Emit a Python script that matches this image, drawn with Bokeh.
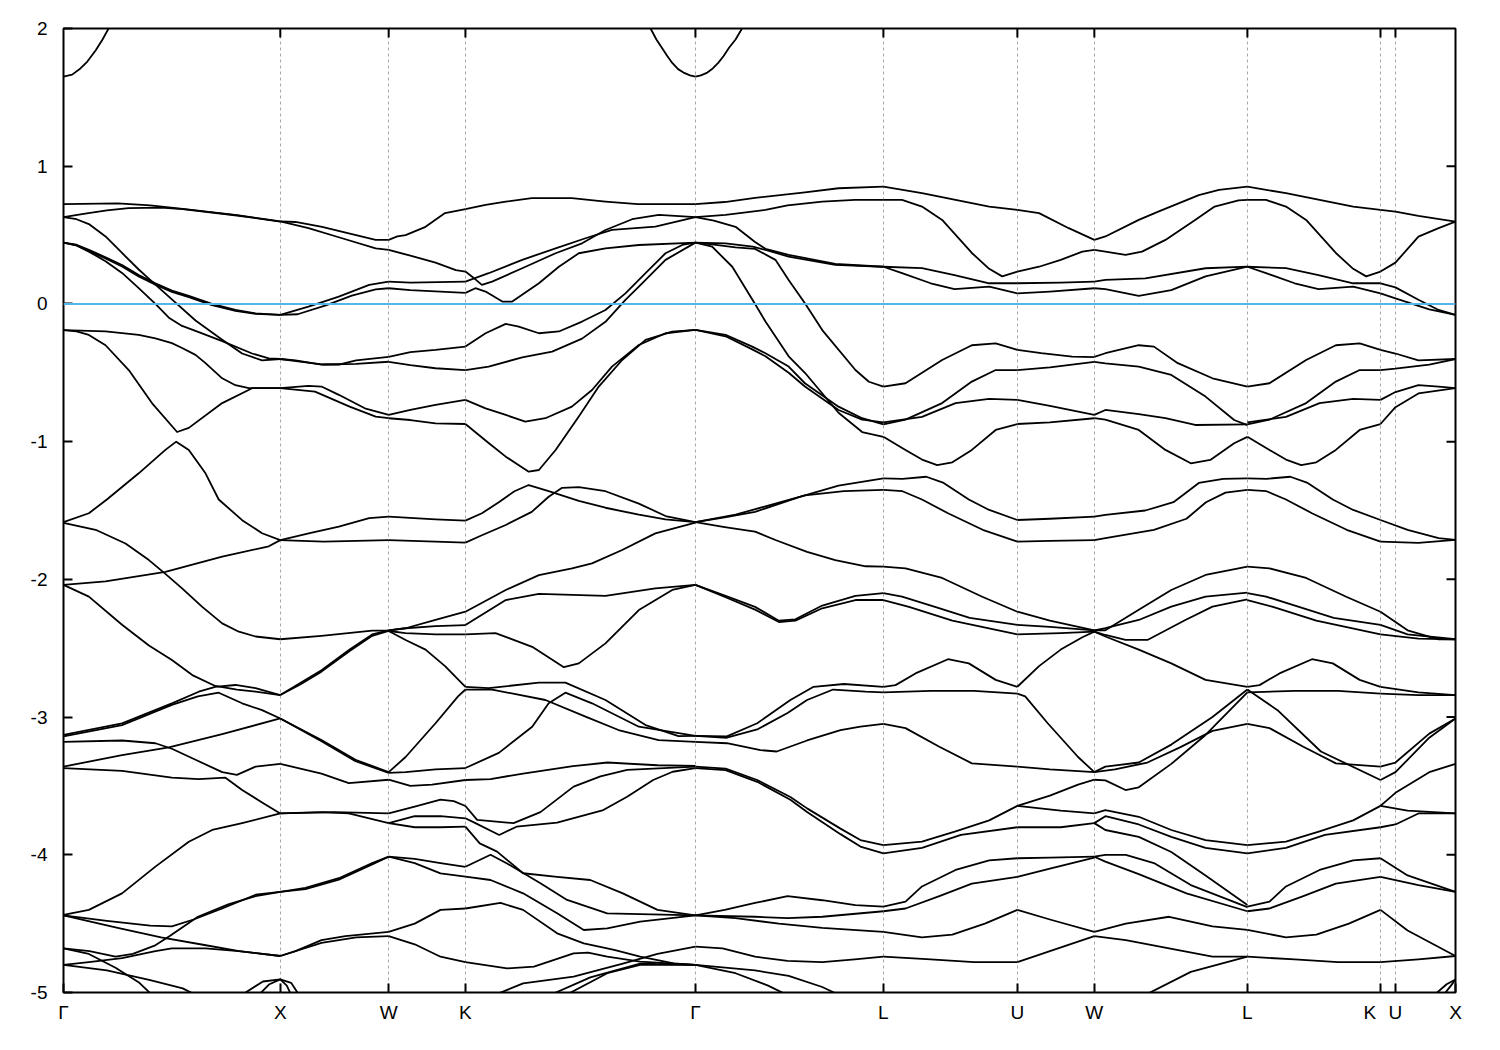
from bokeh.plotting import figure
from bokeh.models import Range1d, FixedTicker, Span
from bokeh.embed import file_html
from bokeh.resources import INLINE

# High-symmetry points (path coordinate) and their labels
hs_k = [0.0, 1.0, 1.5, 1.854, 2.915, 3.782, 4.40, 4.755, 5.461, 6.075, 6.144, 6.421]
hs_labels = ["Γ", "X", "W", "K", "Γ", "L", "U", "W", "L", "K", "U", "X"]
y_ticks = [2, 1, 0, -1, -2, -3, -4, -5]
fermi_level = 0.0

# Bands, segment by segment: each curve is a list of (k, E[eV])
seg_gamma_x = [
    [(0, 1.65), (0.04, 1.665), (0.078, 1.71), (0.11, 1.76), (0.148, 1.84), (0.18, 1.92), (0.208, 2.0), (0.24, 2.15)],
    [(0, 0.725), (0.25, 0.73), (0.4, 0.715), (0.55, 0.69), (0.8, 0.645), (1.0, 0.60)],
    [(0, 0.63), (0.1, 0.655), (0.2, 0.68), (0.3, 0.695), (0.45, 0.70), (0.55, 0.688), (0.8, 0.642), (1.0, 0.598)],
    [(0, 0.63), (0.06, 0.615), (0.117, 0.58), (0.194, 0.49), (0.27, 0.37), (0.347, 0.25), (0.424, 0.14), (0.509, 0.02), (0.609, -0.12), (0.732, -0.26), (0.824, -0.36), (0.916, -0.41), (1.0, -0.40)],
    [(0, 0.445), (0.06, 0.425), (0.117, 0.38), (0.194, 0.31), (0.27, 0.225), (0.347, 0.115), (0.424, 0.0), (0.486, -0.10), (0.547, -0.16), (0.624, -0.205), (0.732, -0.27), (0.87, -0.36), (0.947, -0.395), (1.0, -0.40)],
    [(0, 0.445), (0.06, 0.43), (0.117, 0.392), (0.194, 0.339), (0.27, 0.283), (0.347, 0.21), (0.424, 0.15), (0.50, 0.097), (0.578, 0.058), (0.685, 0.0), (0.793, -0.044), (0.886, -0.068), (1.0, -0.08)],
    [(0, 0.445), (0.06, 0.425), (0.117, 0.385), (0.194, 0.33), (0.27, 0.272), (0.347, 0.2), (0.424, 0.14), (0.50, 0.088), (0.578, 0.05), (0.685, -0.008), (0.793, -0.05), (0.886, -0.072), (1.0, -0.08)],
    [(0, -0.19), (0.194, -0.20), (0.347, -0.225), (0.424, -0.25), (0.50, -0.285), (0.547, -0.32), (0.609, -0.37), (0.655, -0.43), (0.732, -0.54), (0.793, -0.59), (0.855, -0.612), (1.0, -0.612)],
    [(0, -0.19), (0.06, -0.20), (0.117, -0.225), (0.194, -0.30), (0.301, -0.48), (0.408, -0.72), (0.524, -0.93), (0.578, -0.90), (0.732, -0.72), (0.87, -0.612), (1.0, -0.612)],
    [(0, -1.585), (0.117, -1.52), (0.2, -1.42), (0.347, -1.23), (0.47, -1.06), (0.52, -1.0), (0.578, -1.06), (0.655, -1.23), (0.716, -1.42), (0.824, -1.57), (0.916, -1.665), (1.0, -1.715)],
    [(0, -1.59), (0.148, -1.64), (0.286, -1.74), (0.394, -1.86), (0.47, -1.96), (0.547, -2.065), (0.64, -2.20), (0.732, -2.32), (0.809, -2.38), (0.886, -2.415), (1.0, -2.435)],
    [(0, -2.04), (0.194, -2.015), (0.47, -1.945), (0.732, -1.835), (0.947, -1.76), (1.0, -1.715)],
    [(0, -2.04), (0.117, -2.125), (0.27, -2.33), (0.394, -2.48), (0.50, -2.586), (0.594, -2.695), (0.70, -2.774), (0.80, -2.80), (0.886, -2.815), (1.0, -2.84)],
    [(0, -3.13), (0.27, -3.046), (0.50, -2.90), (0.624, -2.816), (0.70, -2.78), (0.793, -2.767), (0.886, -2.79), (1.0, -2.84)],
    [(0, -3.14), (0.27, -3.058), (0.50, -2.912), (0.62, -2.85), (0.716, -2.823), (0.824, -2.90), (0.916, -2.95), (1.0, -3.01)],
    [(0, -3.36), (0.27, -3.276), (0.486, -3.22), (0.732, -3.123), (1.0, -3.01)],
    [(0, -3.18), (0.27, -3.17), (0.424, -3.19), (0.50, -3.23), (0.609, -3.31), (0.732, -3.40), (0.80, -3.42), (0.886, -3.36), (1.0, -3.34)],
    [(0, -3.37), (0.27, -3.39), (0.50, -3.44), (0.624, -3.45), (0.747, -3.44), (0.824, -3.53), (0.916, -3.62), (1.0, -3.70)],
    [(0, -4.437), (0.117, -4.40), (0.27, -4.28), (0.424, -4.086), (0.578, -3.905), (0.686, -3.82), (0.824, -3.77), (1.0, -3.70)],
    [(0, -4.44), (0.2, -4.48), (0.4, -4.515), (0.5, -4.52), (0.6, -4.47), (0.732, -4.39), (0.886, -4.29), (1.0, -4.27)],
    [(0, -4.44), (0.25, -4.53), (0.45, -4.60), (0.65, -4.655), (0.81, -4.70), (1.0, -4.735)],
    [(0, -4.68), (0.12, -4.70), (0.24, -4.74), (0.32, -4.72), (0.42, -4.66), (0.49, -4.59), (0.62, -4.45), (0.76, -4.36), (0.886, -4.30), (1.0, -4.27)],
    [(0, -4.80), (0.117, -4.78), (0.27, -4.75), (0.424, -4.70), (0.50, -4.68), (0.655, -4.68), (0.809, -4.70), (1.0, -4.735)],
    [(0, -4.68), (0.117, -4.72), (0.24, -4.82), (0.35, -4.93), (0.43, -5.05)],
    [(0, -4.80), (0.2, -4.84), (0.4, -4.91), (0.55, -4.97), (0.65, -5.05)],
    [(0.79, -5.05), (0.92, -4.92), (1.0, -4.905), (1.05, -4.93), (1.10, -5.05)],
    [(0.88, -5.05), (0.95, -4.94), (1.0, -4.905), (1.03, -4.95), (1.06, -5.05)],
]

seg_x_w = [
    [(1.0, 0.60), (1.07, 0.595), (1.193, 0.56), (1.316, 0.513), (1.44, 0.465), (1.5, 0.465)],
    [(1.0, 0.60), (1.13, 0.55), (1.285, 0.477), (1.44, 0.404), (1.5, 0.392)],
    [(1.0, -0.08), (1.13, -0.02), (1.27, 0.053), (1.41, 0.138), (1.5, 0.162)],
    [(1.0, -0.08), (1.08, -0.075), (1.21, -0.01), (1.33, 0.06), (1.44, 0.105), (1.5, 0.114)],
    [(1.0, -0.40), (1.07, -0.41), (1.19, -0.44), (1.27, -0.44), (1.35, -0.41), (1.5, -0.385)],
    [(1.0, -0.40), (1.1, -0.42), (1.2, -0.44), (1.35, -0.435), (1.5, -0.42)],
    [(1.0, -0.612), (1.13, -0.595), (1.19, -0.60), (1.27, -0.66), (1.39, -0.758), (1.5, -0.806)],
    [(1.0, -0.612), (1.16, -0.637), (1.32, -0.746), (1.44, -0.818), (1.5, -0.83)],
    [(1.0, -1.715), (1.136, -1.665), (1.27, -1.617), (1.41, -1.556), (1.5, -1.545)],
    [(1.0, -1.715), (1.2, -1.726), (1.5, -1.715)],
    [(1.0, -2.435), (1.19, -2.41), (1.424, -2.372), (1.5, -2.372)],
    [(1.0, -2.84), (1.09, -2.755), (1.19, -2.66), (1.32, -2.51), (1.424, -2.40), (1.5, -2.37)],
    [(1.0, -2.84), (1.09, -2.765), (1.19, -2.67), (1.32, -2.52), (1.424, -2.41), (1.5, -2.375)],
    [(1.0, -3.01), (1.19, -3.166), (1.347, -3.31), (1.5, -3.40)],
    [(1.0, -3.01), (1.19, -3.175), (1.347, -3.32), (1.5, -3.405)],
    [(1.0, -3.34), (1.19, -3.41), (1.316, -3.48), (1.5, -3.455)],
    [(1.0, -3.70), (1.193, -3.69), (1.316, -3.70), (1.5, -3.77)],
    [(1.0, -3.70), (1.25, -3.69), (1.5, -3.70)],
    [(1.0, -4.27), (1.116, -4.24), (1.27, -4.17), (1.424, -4.06), (1.5, -4.014)],
    [(1.0, -4.27), (1.116, -4.25), (1.27, -4.18), (1.424, -4.07), (1.5, -4.014)],
    [(1.0, -4.735), (1.07, -4.70), (1.19, -4.62), (1.3, -4.59), (1.5, -4.56)],
    [(1.0, -4.735), (1.19, -4.64), (1.35, -4.60), (1.5, -4.59)],
]

seg_w_k = [
    [(1.5, 0.465), (1.54, 0.49), (1.578, 0.50), (1.67, 0.56), (1.76, 0.66), (1.854, 0.688)],
    [(1.5, 0.392), (1.6, 0.35), (1.716, 0.30), (1.81, 0.245), (1.854, 0.235)],
    [(1.5, 0.162), (1.6, 0.155), (1.854, 0.162)],
    [(1.5, 0.114), (1.6, 0.10), (1.854, 0.08)],
    [(1.5, -0.385), (1.6, -0.35), (1.716, -0.334), (1.854, -0.31)],
    [(1.5, -0.42), (1.6, -0.445), (1.716, -0.467), (1.854, -0.48)],
    [(1.5, -0.806), (1.6, -0.77), (1.716, -0.733), (1.854, -0.697)],
    [(1.5, -0.83), (1.6, -0.843), (1.716, -0.867), (1.854, -0.872)],
    [(1.5, -1.545), (1.716, -1.564), (1.854, -1.573)],
    [(1.5, -1.715), (1.716, -1.726), (1.854, -1.733)],
    [(1.5, -2.37), (1.578, -2.355), (1.716, -2.295), (1.854, -2.235)],
    [(1.5, -2.37), (1.578, -2.355), (1.716, -2.34), (1.854, -2.332)],
    [(1.5, -2.375), (1.578, -2.39), (1.716, -2.40), (1.854, -2.40)],
    [(1.5, -2.375), (1.578, -2.44), (1.67, -2.51), (1.76, -2.63), (1.854, -2.78)],
    [(1.5, -3.40), (1.578, -3.29), (1.716, -3.045), (1.82, -2.85), (1.854, -2.80)],
    [(1.5, -3.405), (1.578, -3.40), (1.716, -3.38), (1.854, -3.37)],
    [(1.5, -3.455), (1.6, -3.50), (1.70, -3.49), (1.854, -3.457)],
    [(1.5, -3.70), (1.62, -3.65), (1.739, -3.60), (1.80, -3.61), (1.854, -3.646)],
    [(1.5, -3.77), (1.62, -3.72), (1.739, -3.72), (1.854, -3.735)],
    [(1.5, -3.77), (1.62, -3.80), (1.739, -3.80), (1.854, -3.796)],
    [(1.5, -4.014), (1.62, -4.03), (1.739, -4.06), (1.854, -4.087)],
    [(1.5, -4.014), (1.62, -4.06), (1.739, -4.135), (1.854, -4.159)],
    [(1.5, -4.56), (1.62, -4.50), (1.739, -4.40), (1.854, -4.39)],
    [(1.5, -4.59), (1.62, -4.65), (1.739, -4.74), (1.854, -4.78)],
]

seg_k_gamma = [
    [(1.854, 0.688), (1.947, 0.719), (2.04, 0.743), (2.16, 0.768), (2.345, 0.768), (2.50, 0.743), (2.65, 0.724), (2.915, 0.724)],
    [(1.854, 0.235), (1.885, 0.198), (1.93, 0.138), (1.977, 0.162), (2.116, 0.259), (2.27, 0.368), (2.392, 0.44), (2.50, 0.537), (2.623, 0.615), (2.746, 0.646), (2.915, 0.63)],
    [(1.854, 0.162), (1.961, 0.223), (2.116, 0.32), (2.27, 0.404), (2.408, 0.477), (2.53, 0.537), (2.73, 0.562), (2.915, 0.63)],
    [(1.854, 0.08), (1.9, 0.114), (1.947, 0.09), (2.024, 0.017), (2.07, 0.017), (2.193, 0.15), (2.285, 0.27), (2.377, 0.368), (2.50, 0.404), (2.654, 0.428), (2.915, 0.445)],
    [(1.854, -0.31), (1.947, -0.213), (2.04, -0.145), (2.10, -0.165), (2.193, -0.213), (2.285, -0.20), (2.392, -0.128), (2.50, -0.044), (2.592, 0.077), (2.685, 0.223), (2.777, 0.368), (2.854, 0.428), (2.915, 0.445)],
    [(1.854, -0.48), (1.961, -0.455), (2.116, -0.388), (2.254, -0.346), (2.392, -0.252), (2.50, -0.13), (2.592, 0.03), (2.654, 0.126), (2.777, 0.32), (2.915, 0.445)],
    [(1.854, -0.697), (1.947, -0.758), (2.04, -0.806), (2.13, -0.855), (2.223, -0.83), (2.345, -0.746), (2.438, -0.625), (2.53, -0.455), (2.654, -0.298), (2.777, -0.213), (2.915, -0.189)],
    [(1.854, -0.872), (1.961, -1.01), (2.04, -1.109), (2.146, -1.218), (2.193, -1.206), (2.27, -1.061), (2.377, -0.818), (2.469, -0.6), (2.577, -0.407), (2.685, -0.261), (2.808, -0.201), (2.915, -0.189)],
    [(1.854, -1.573), (1.93, -1.52), (2.008, -1.44), (2.08, -1.36), (2.146, -1.315), (2.238, -1.36), (2.377, -1.43), (2.50, -1.48), (2.654, -1.53), (2.777, -1.565), (2.915, -1.585)],
    [(1.854, -1.733), (1.93, -1.68), (2.04, -1.605), (2.16, -1.51), (2.238, -1.40), (2.30, -1.335), (2.377, -1.33), (2.50, -1.36), (2.654, -1.45), (2.777, -1.54), (2.915, -1.585)],
    [(1.854, -2.235), (2.04, -2.077), (2.193, -1.969), (2.346, -1.92), (2.438, -1.884), (2.577, -1.787), (2.73, -1.666), (2.915, -1.588)],
    [(1.854, -2.332), (2.04, -2.15), (2.193, -2.106), (2.50, -2.12), (2.73, -2.065), (2.915, -2.04)],
    [(1.854, -2.40), (1.993, -2.39), (2.162, -2.49), (2.308, -2.638), (2.377, -2.61), (2.50, -2.465), (2.654, -2.223), (2.808, -2.077), (2.915, -2.04)],
    [(1.854, -2.78), (1.961, -2.79), (2.193, -2.75), (2.315, -2.75), (2.50, -2.876), (2.685, -3.058), (2.837, -3.138), (2.915, -3.137)],
    [(1.854, -2.80), (1.977, -2.80), (2.223, -2.876), (2.408, -2.997), (2.56, -3.094), (2.745, -3.167), (2.915, -3.18)],
    [(1.854, -3.37), (2.008, -3.26), (2.162, -3.07), (2.238, -2.90), (2.315, -2.823), (2.438, -2.90), (2.654, -3.07), (2.915, -3.137)],
    [(1.854, -3.457), (1.97, -3.45), (2.12, -3.41), (2.35, -3.356), (2.51, -3.33), (2.74, -3.35), (2.915, -3.355)],
    [(1.854, -3.646), (1.908, -3.747), (2.076, -3.77), (2.20, -3.69), (2.353, -3.505), (2.477, -3.43), (2.60, -3.384), (2.915, -3.36)],
    [(1.854, -3.735), (1.90, -3.77), (2.01, -3.856), (2.09, -3.796), (2.277, -3.767), (2.49, -3.675), (2.60, -3.578), (2.72, -3.457), (2.81, -3.397), (2.915, -3.37)],
    [(1.854, -3.796), (1.92, -3.917), (2.0, -3.977), (2.12, -4.134), (2.277, -4.16), (2.43, -4.183), (2.58, -4.28), (2.74, -4.40), (2.915, -4.44)],
    [(1.854, -4.087), (1.97, -4.00), (2.046, -4.063), (2.20, -4.207), (2.323, -4.328), (2.508, -4.425), (2.915, -4.44)],
    [(1.854, -4.159), (1.97, -4.183), (2.12, -4.28), (2.277, -4.425), (2.40, -4.546), (2.508, -4.534), (2.66, -4.486), (2.915, -4.44)],
    [(1.854, -4.39), (2.016, -4.35), (2.12, -4.40), (2.277, -4.57), (2.40, -4.643), (2.54, -4.69), (2.66, -4.74), (2.815, -4.788), (2.915, -4.80)],
    [(1.854, -4.78), (2.046, -4.825), (2.17, -4.812), (2.353, -4.716), (2.42, -4.71), (2.508, -4.74), (2.66, -4.776), (2.915, -4.80)],
    [(1.94, -5.05), (2.12, -4.934), (2.353, -4.885), (2.58, -4.79), (2.74, -4.72), (2.915, -4.667)],
    [(2.20, -5.05), (2.43, -4.89), (2.66, -4.79), (2.915, -4.80)],
    [(2.28, -5.05), (2.508, -4.86), (2.66, -4.80), (2.915, -4.80)],
    [(2.68, 2.15), (2.708, 2.0), (2.735, 1.92), (2.76, 1.86), (2.785, 1.80), (2.808, 1.75), (2.835, 1.705), (2.86, 1.68), (2.89, 1.66), (2.915, 1.65)],
]

seg_gamma_l = [
    [(2.915, 1.65), (2.94, 1.66), (2.97, 1.68), (2.995, 1.71), (3.02, 1.75), (3.045, 1.80), (3.07, 1.86), (3.10, 1.92), (3.13, 2.0), (3.16, 2.15)],
    [(2.915, 0.724), (3.05, 0.74), (3.19, 0.77), (3.42, 0.81), (3.575, 0.84), (3.782, 0.852)],
    [(2.915, 0.63), (3.054, 0.646), (3.238, 0.683), (3.34, 0.715), (3.50, 0.743), (3.65, 0.755), (3.782, 0.755)],
    [(2.915, 0.63), (3.0, 0.605), (3.10, 0.56), (3.19, 0.45), (3.238, 0.40), (3.345, 0.356), (3.56, 0.29), (3.782, 0.27)],
    [(2.915, 0.445), (3.054, 0.44), (3.18, 0.416), (3.238, 0.392), (3.345, 0.344), (3.56, 0.283), (3.782, 0.27)],
    [(2.915, 0.445), (2.992, 0.416), (3.085, 0.27), (3.19, 0.0), (3.238, -0.128), (3.345, -0.38), (3.42, -0.50), (3.575, -0.79), (3.684, -0.93), (3.782, -0.965)],
    [(2.915, 0.445), (3.0, 0.43), (3.10, 0.41), (3.19, 0.40), (3.284, 0.32), (3.345, 0.174), (3.42, 0.005), (3.50, -0.19), (3.653, -0.48), (3.715, -0.565), (3.782, -0.60)],
    [(2.915, -0.189), (3.054, -0.225), (3.177, -0.31), (3.238, -0.358), (3.345, -0.455), (3.42, -0.576), (3.575, -0.746), (3.684, -0.83), (3.782, -0.875)],
    [(2.915, -0.189), (3.054, -0.235), (3.177, -0.33), (3.238, -0.38), (3.345, -0.50), (3.42, -0.60), (3.575, -0.77), (3.684, -0.84), (3.782, -0.86)],
    [(2.915, -1.585), (3.05, -1.55), (3.19, -1.51), (3.40, -1.40), (3.575, -1.32), (3.782, -1.266)],
    [(2.915, -1.585), (3.10, -1.53), (3.238, -1.47), (3.42, -1.39), (3.60, -1.36), (3.782, -1.35)],
    [(2.915, -1.585), (3.05, -1.62), (3.19, -1.654), (3.284, -1.714), (3.43, -1.80), (3.56, -1.86), (3.70, -1.905), (3.782, -1.908)],
    [(2.915, -2.04), (3.054, -2.12), (3.19, -2.20), (3.30, -2.30), (3.376, -2.29), (3.50, -2.19), (3.653, -2.12), (3.782, -2.10)],
    [(2.915, -2.04), (3.054, -2.13), (3.19, -2.22), (3.30, -2.31), (3.376, -2.30), (3.50, -2.21), (3.653, -2.15), (3.782, -2.15)],
    [(2.915, -3.137), (3.06, -3.14), (3.20, -3.045), (3.353, -2.876), (3.46, -2.78), (3.60, -2.76), (3.782, -2.78)],
    [(2.915, -3.137), (3.06, -3.15), (3.20, -3.09), (3.34, -2.97), (3.43, -2.876), (3.55, -2.80), (3.70, -2.815), (3.782, -2.82)],
    [(2.915, -3.18), (3.06, -3.19), (3.215, -3.24), (3.29, -3.25), (3.43, -3.17), (3.584, -3.094), (3.676, -3.07), (3.782, -3.05)],
    [(2.915, -3.36), (3.054, -3.375), (3.20, -3.457), (3.353, -3.58), (3.43, -3.663), (3.584, -3.81), (3.676, -3.893), (3.782, -3.93)],
    [(2.915, -3.37), (3.054, -3.385), (3.20, -3.47), (3.353, -3.60), (3.43, -3.69), (3.584, -3.85), (3.676, -3.94), (3.782, -3.99)],
    [(2.915, -4.44), (3.05, -4.40), (3.19, -4.35), (3.34, -4.30), (3.50, -4.33), (3.653, -4.365), (3.782, -4.376)],
    [(2.915, -4.44), (3.19, -4.45), (3.34, -4.46), (3.50, -4.45), (3.782, -4.41)],
    [(2.915, -4.44), (3.10, -4.46), (3.30, -4.50), (3.50, -4.53), (3.782, -4.56)],
    [(2.915, -4.667), (3.04, -4.68), (3.19, -4.74), (3.34, -4.77), (3.50, -4.78), (3.65, -4.76), (3.782, -4.74)],
    [(2.915, -4.80), (3.19, -4.84), (3.345, -4.88), (3.50, -4.96), (3.62, -5.05)],
    [(2.915, -4.80), (3.10, -4.86), (3.25, -4.95), (3.38, -5.05)],
]

seg_l_u = [
    [(3.782, 0.852), (3.96, 0.804), (4.115, 0.755), (4.27, 0.707), (4.40, 0.683)],
    [(3.782, 0.755), (3.868, 0.755), (3.96, 0.707), (4.053, 0.61), (4.19, 0.37), (4.27, 0.255), (4.33, 0.20), (4.40, 0.235)],
    [(3.782, 0.27), (3.96, 0.26), (4.11, 0.21), (4.27, 0.15), (4.40, 0.15)],
    [(3.782, 0.27), (3.868, 0.224), (4.0, 0.15), (4.11, 0.107), (4.27, 0.126), (4.40, 0.077)],
    [(3.782, -0.60), (3.884, -0.576), (4.053, -0.407), (4.19, -0.30), (4.30, -0.286), (4.40, -0.334)],
    [(3.782, -0.875), (3.884, -0.84), (4.053, -0.72), (4.19, -0.564), (4.30, -0.48), (4.40, -0.48)],
    [(3.782, -0.86), (3.96, -0.82), (4.115, -0.72), (4.27, -0.69), (4.40, -0.697)],
    [(3.782, -0.965), (3.884, -1.06), (3.96, -1.13), (4.03, -1.17), (4.10, -1.15), (4.19, -1.06), (4.30, -0.915), (4.40, -0.872)],
    [(3.782, -1.266), (3.87, -1.27), (3.98, -1.255), (4.06, -1.30), (4.176, -1.42), (4.27, -1.496), (4.40, -1.569)],
    [(3.782, -1.35), (3.87, -1.36), (3.96, -1.42), (4.08, -1.52), (4.24, -1.64), (4.40, -1.726)],
    [(3.782, -1.908), (3.884, -1.92), (4.053, -1.99), (4.238, -2.126), (4.40, -2.235)],
    [(3.782, -2.10), (3.868, -2.125), (4.02, -2.20), (4.18, -2.28), (4.40, -2.33)],
    [(3.782, -2.15), (3.90, -2.20), (4.10, -2.30), (4.40, -2.40)],
    [(3.782, -2.78), (3.838, -2.768), (3.93, -2.683), (4.08, -2.58), (4.176, -2.61), (4.30, -2.73), (4.40, -2.78)],
    [(3.782, -2.82), (4.0, -2.81), (4.2, -2.81), (4.40, -2.83)],
    [(3.782, -3.05), (3.884, -3.08), (4.04, -3.215), (4.19, -3.336), (4.40, -3.36)],
    [(3.782, -3.93), (3.96, -3.905), (4.115, -3.83), (4.27, -3.75), (4.40, -3.645)],
    [(3.782, -3.99), (3.96, -3.95), (4.14, -3.855), (4.40, -3.80)],
    [(3.782, -4.376), (3.884, -4.34), (3.96, -4.23), (4.115, -4.11), (4.27, -4.04), (4.40, -4.025)],
    [(3.782, -4.41), (3.884, -4.39), (4.04, -4.30), (4.19, -4.21), (4.40, -4.16)],
    [(3.782, -4.56), (3.96, -4.60), (4.10, -4.58), (4.25, -4.50), (4.40, -4.40)],
    [(3.782, -4.74), (4.0, -4.76), (4.2, -4.78), (4.40, -4.78)],
]

seg_u_w = [
    [(4.40, 0.683), (4.50, 0.659), (4.637, 0.55), (4.755, 0.465)],
    [(4.40, 0.235), (4.50, 0.27), (4.60, 0.32), (4.70, 0.38), (4.755, 0.392)],
    [(4.40, 0.15), (4.60, 0.155), (4.755, 0.162)],
    [(4.40, 0.077), (4.55, 0.09), (4.755, 0.114)],
    [(4.40, -0.334), (4.51, -0.358), (4.653, -0.383), (4.755, -0.387)],
    [(4.40, -0.48), (4.55, -0.46), (4.755, -0.42)],
    [(4.40, -0.697), (4.55, -0.74), (4.755, -0.806)],
    [(4.40, -0.872), (4.55, -0.86), (4.755, -0.83)],
    [(4.40, -1.569), (4.55, -1.56), (4.755, -1.545)],
    [(4.40, -1.726), (4.55, -1.72), (4.755, -1.715)],
    [(4.40, -2.235), (4.55, -2.30), (4.755, -2.37)],
    [(4.40, -2.33), (4.55, -2.345), (4.755, -2.37)],
    [(4.40, -2.40), (4.60, -2.39), (4.755, -2.38)],
    [(4.40, -2.78), (4.50, -2.63), (4.60, -2.51), (4.70, -2.42), (4.755, -2.38)],
    [(4.40, -2.83), (4.436, -2.85), (4.54, -3.045), (4.68, -3.29), (4.755, -3.40)],
    [(4.40, -3.36), (4.55, -3.38), (4.755, -3.40)],
    [(4.40, -3.645), (4.55, -3.57), (4.68, -3.49), (4.755, -3.455)],
    [(4.40, -3.645), (4.60, -3.68), (4.755, -3.70)],
    [(4.40, -3.80), (4.60, -3.80), (4.755, -3.77)],
    [(4.40, -4.025), (4.55, -4.02), (4.755, -4.014)],
    [(4.40, -4.16), (4.55, -4.10), (4.755, -4.02)],
    [(4.40, -4.40), (4.55, -4.47), (4.755, -4.56)],
    [(4.40, -4.78), (4.55, -4.70), (4.755, -4.59)],
]

seg_w_l = [
    [(4.755, 0.465), (4.806, 0.49), (4.96, 0.61), (5.05, 0.67), (5.237, 0.79), (5.33, 0.828), (5.461, 0.852)],
    [(4.755, 0.392), (4.806, 0.38), (4.899, 0.356), (4.975, 0.38), (5.083, 0.465), (5.22, 0.61), (5.31, 0.707), (5.42, 0.752), (5.461, 0.755)],
    [(4.755, 0.162), (4.806, 0.174), (4.99, 0.186), (5.268, 0.259), (5.461, 0.271)],
    [(4.755, 0.114), (4.806, 0.107), (4.96, 0.058), (5.11, 0.10), (5.268, 0.20), (5.461, 0.271)],
    [(4.755, -0.385), (4.806, -0.358), (4.96, -0.30), (5.03, -0.31), (5.14, -0.43), (5.30, -0.54), (5.461, -0.60)],
    [(4.755, -0.42), (4.806, -0.431), (4.96, -0.455), (5.11, -0.516), (5.268, -0.673), (5.40, -0.843), (5.461, -0.88)],
    [(4.755, -0.806), (4.806, -0.77), (4.96, -0.80), (5.083, -0.83), (5.22, -0.879), (5.461, -0.875)],
    [(4.755, -0.83), (4.806, -0.84), (4.96, -0.915), (5.083, -1.06), (5.20, -1.157), (5.29, -1.133), (5.40, -1.012), (5.461, -0.965)],
    [(4.755, -1.545), (4.806, -1.532), (4.99, -1.50), (5.12, -1.44), (5.237, -1.30), (5.35, -1.27), (5.461, -1.266)],
    [(4.755, -1.715), (4.806, -1.70), (5.03, -1.64), (5.18, -1.56), (5.27, -1.44), (5.36, -1.37), (5.461, -1.35)],
    [(4.755, -2.37), (4.806, -2.37), (4.96, -2.22), (5.11, -2.077), (5.268, -1.968), (5.461, -1.908)],
    [(4.755, -2.37), (4.806, -2.355), (4.96, -2.295), (5.11, -2.198), (5.268, -2.126), (5.461, -2.096)],
    [(4.755, -2.38), (4.806, -2.404), (4.899, -2.44), (5.0, -2.44), (5.175, -2.295), (5.30, -2.198), (5.461, -2.145)],
    [(4.755, -2.38), (4.806, -2.415), (4.96, -2.51), (5.11, -2.61), (5.268, -2.73), (5.461, -2.78)],
    [(4.755, -3.40), (4.806, -3.36), (4.96, -3.33), (5.11, -3.2), (5.30, -3.0), (5.461, -2.80)],
    [(4.755, -3.455), (4.806, -3.46), (4.899, -3.53), (4.96, -3.51), (5.11, -3.34), (5.268, -3.13), (5.461, -2.82)],
    [(4.755, -3.40), (4.85, -3.38), (5.0, -3.33), (5.15, -3.22), (5.30, -3.10), (5.461, -3.05)],
    [(4.755, -3.70), (4.806, -3.676), (4.96, -3.724), (5.11, -3.82), (5.268, -3.893), (5.461, -3.93)],
    [(4.755, -3.77), (4.806, -3.72), (4.96, -3.78), (5.11, -3.87), (5.268, -3.95), (5.461, -3.99)],
    [(4.755, -3.77), (4.806, -3.82), (4.96, -3.87), (5.11, -3.98), (5.268, -4.15), (5.461, -4.365)],
    [(4.755, -4.014), (4.806, -4.0), (4.90, -4.0), (5.03, -4.06), (5.20, -4.22), (5.461, -4.38)],
    [(4.755, -4.014), (4.806, -4.05), (4.96, -4.14), (5.18, -4.28), (5.461, -4.41)],
    [(4.755, -4.56), (4.90, -4.50), (5.10, -4.45), (5.30, -4.52), (5.461, -4.545)],
    [(4.755, -4.59), (4.90, -4.62), (5.10, -4.68), (5.30, -4.74), (5.461, -4.74)],
    [(4.95, -5.05), (5.20, -4.85), (5.461, -4.74)],
]

seg_l_k = [
    [(5.461, 0.852), (5.639, 0.804), (5.794, 0.755), (5.949, 0.707), (6.075, 0.683)],
    [(5.461, 0.755), (5.547, 0.755), (5.639, 0.707), (5.732, 0.61), (5.869, 0.37), (5.949, 0.255), (6.009, 0.20), (6.075, 0.235)],
    [(5.461, 0.27), (5.639, 0.26), (5.789, 0.21), (5.949, 0.15), (6.075, 0.15)],
    [(5.461, 0.27), (5.547, 0.224), (5.679, 0.15), (5.789, 0.107), (5.949, 0.126), (6.075, 0.077)],
    [(5.461, -0.60), (5.563, -0.576), (5.732, -0.407), (5.869, -0.30), (5.979, -0.286), (6.075, -0.334)],
    [(5.461, -0.875), (5.563, -0.84), (5.732, -0.72), (5.869, -0.564), (5.979, -0.48), (6.075, -0.48)],
    [(5.461, -0.86), (5.639, -0.82), (5.794, -0.72), (5.949, -0.69), (6.075, -0.697)],
    [(5.461, -0.965), (5.563, -1.06), (5.639, -1.13), (5.709, -1.17), (5.779, -1.15), (5.869, -1.06), (5.979, -0.915), (6.075, -0.872)],
    [(5.461, -1.266), (5.549, -1.27), (5.659, -1.255), (5.739, -1.30), (5.855, -1.42), (5.949, -1.496), (6.075, -1.569)],
    [(5.461, -1.35), (5.549, -1.36), (5.639, -1.42), (5.759, -1.52), (5.919, -1.64), (6.075, -1.726)],
    [(5.461, -1.908), (5.563, -1.92), (5.732, -1.99), (5.917, -2.126), (6.075, -2.235)],
    [(5.461, -2.10), (5.547, -2.125), (5.699, -2.20), (5.859, -2.28), (6.075, -2.33)],
    [(5.461, -2.15), (5.579, -2.20), (5.779, -2.30), (6.075, -2.40)],
    [(5.461, -2.78), (5.517, -2.768), (5.609, -2.683), (5.759, -2.58), (5.855, -2.61), (5.979, -2.73), (6.075, -2.78)],
    [(5.461, -2.82), (5.679, -2.81), (5.879, -2.81), (6.075, -2.83)],
    [(5.461, -3.05), (5.563, -3.08), (5.719, -3.215), (5.869, -3.336), (6.075, -3.36)],
    [(5.461, -2.80), (5.60, -2.95), (5.80, -3.25), (6.075, -3.457)],
    [(5.461, -3.93), (5.639, -3.905), (5.794, -3.83), (5.949, -3.75), (6.075, -3.645)],
    [(5.461, -3.99), (5.639, -3.95), (5.819, -3.855), (6.075, -3.80)],
    [(5.461, -4.376), (5.563, -4.34), (5.639, -4.23), (5.794, -4.11), (5.949, -4.04), (6.075, -4.025)],
    [(5.461, -4.41), (5.563, -4.39), (5.719, -4.30), (5.869, -4.21), (6.075, -4.16)],
    [(5.461, -4.545), (5.639, -4.60), (5.779, -4.58), (5.929, -4.50), (6.075, -4.40)],
    [(5.461, -4.74), (5.679, -4.76), (5.879, -4.78), (6.075, -4.78)],
]

seg_k_u_x = [
    [(6.075, 0.683), (6.144, 0.67), (6.25, 0.64), (6.421, 0.598)],
    [(6.075, 0.235), (6.144, 0.30), (6.25, 0.489), (6.343, 0.55), (6.421, 0.598)],
    [(6.075, 0.15), (6.144, 0.12), (6.25, 0.03), (6.343, -0.044), (6.421, -0.08)],
    [(6.075, 0.077), (6.144, 0.04), (6.30, -0.04), (6.421, -0.08)],
    [(6.075, -0.334), (6.144, -0.36), (6.25, -0.41), (6.421, -0.40)],
    [(6.075, -0.48), (6.144, -0.47), (6.30, -0.44), (6.421, -0.40)],
    [(6.075, -0.697), (6.144, -0.64), (6.25, -0.59), (6.343, -0.60), (6.421, -0.612)],
    [(6.075, -0.872), (6.144, -0.75), (6.25, -0.65), (6.421, -0.612)],
    [(6.075, -1.569), (6.20, -1.64), (6.343, -1.70), (6.421, -1.714)],
    [(6.075, -1.726), (6.25, -1.735), (6.421, -1.714)],
    [(6.075, -2.235), (6.20, -2.37), (6.343, -2.435), (6.421, -2.435)],
    [(6.075, -2.33), (6.20, -2.40), (6.421, -2.435)],
    [(6.075, -2.40), (6.25, -2.43), (6.421, -2.435)],
    [(6.075, -2.78), (6.25, -2.82), (6.421, -2.84)],
    [(6.075, -2.83), (6.25, -2.84), (6.421, -2.84)],
    [(6.075, -3.36), (6.144, -3.33), (6.30, -3.12), (6.421, -3.01)],
    [(6.075, -3.457), (6.144, -3.40), (6.30, -3.15), (6.421, -3.01)],
    [(6.075, -3.645), (6.144, -3.55), (6.30, -3.40), (6.421, -3.34)],
    [(6.075, -3.645), (6.20, -3.68), (6.421, -3.70)],
    [(6.075, -3.80), (6.144, -3.78), (6.25, -3.70), (6.421, -3.70)],
    [(6.075, -4.025), (6.20, -4.15), (6.421, -4.27)],
    [(6.075, -4.16), (6.25, -4.22), (6.421, -4.27)],
    [(6.075, -4.40), (6.20, -4.55), (6.421, -4.735)],
    [(6.075, -4.78), (6.25, -4.76), (6.421, -4.735)],
    [(6.30, -5.05), (6.38, -4.94), (6.421, -4.905)],
    [(6.35, -5.05), (6.40, -4.95), (6.421, -4.905)],
]

segments = [seg_gamma_x, seg_x_w, seg_w_k, seg_k_gamma, seg_gamma_l,
            seg_l_u, seg_u_w, seg_w_l, seg_l_k, seg_k_u_x]

xs, ys = [], []
for seg in segments:
    for curve in seg:
        xs.append([pt[0] for pt in curve])
        ys.append([pt[1] for pt in curve])

FONT = "Liberation Sans"
FONT_SIZE = "19px"
X0, X1 = hs_k[0], hs_k[-1]
Y0, Y1 = -5, 2
FRAME_W, FRAME_H = 1392, 964

p = figure(width=63 + FRAME_W + 30, height=28 + FRAME_H + 50,
           x_range=Range1d(X0, X1), y_range=Range1d(Y0, Y1),
           output_backend="svg", toolbar_location=None,
           min_border_left=63, min_border_right=30,
           min_border_top=28, min_border_bottom=50)

p.background_fill_color = "white"
p.border_fill_color = "white"
p.outline_line_color = "black"
p.outline_line_width = 2

# grid: dashed verticals at the high-symmetry points
p.ygrid.visible = False
p.xgrid.ticker = FixedTicker(ticks=hs_k[1:-1])
p.xgrid.grid_line_color = "#a8a8a8"
p.xgrid.grid_line_dash = "3 3"
p.xgrid.grid_line_width = 1

p.add_layout(Span(location=fermi_level, dimension="width",
                  line_color="#56b4e9", line_width=2))

p.multi_line(xs, ys, line_color="black", line_width=1.8, line_join="round")

# mirrored inward ticks on the top and right edges (9 px long)
tick_px = 9
dy = tick_px * (Y1 - Y0) / FRAME_H
dx = tick_px * (X1 - X0) / FRAME_W
inner_k = hs_k[1:-1]
inner_y = [t for t in y_ticks if Y0 < t < Y1]
p.segment(x0=inner_k, y0=[Y1] * len(inner_k), x1=inner_k, y1=[Y1 - dy] * len(inner_k),
          line_color="black", line_width=2)
p.segment(x0=[X1] * len(inner_y), y0=inner_y, x1=[X1 - dx] * len(inner_y), y1=inner_y,
          line_color="black", line_width=2)

def style_axis(ax):
    ax.axis_line_color = None
    ax.major_tick_in = tick_px
    ax.major_tick_out = 0
    ax.minor_tick_line_color = None
    ax.major_tick_line_color = "black"
    ax.major_tick_line_width = 2
    ax.major_label_text_font = FONT
    ax.major_label_text_font_size = FONT_SIZE
    ax.major_label_text_color = "black"

# the "K" of the closely spaced K|U pair sits a little left of its tick (as in the reference):
# trailing no-break spaces shift the centred glyph to the left
K_IDX = 9
tick_text = list(hs_labels)
tick_text[K_IDX] = hs_labels[K_IDX] + "\u00a0" * 4

xa = p.xaxis[0]
xa.ticker = FixedTicker(ticks=hs_k)
xa.major_label_overrides = {k: lab for k, lab in zip(hs_k, tick_text)}
style_axis(xa)
xa.major_label_standoff = 9

ya = p.yaxis[0]
ya.ticker = FixedTicker(ticks=y_ticks)
ya.major_label_overrides = {t: str(t) for t in y_ticks}
style_axis(ya)
ya.major_label_standoff = 16

open("out.html", "w").write(file_html(p, INLINE))
